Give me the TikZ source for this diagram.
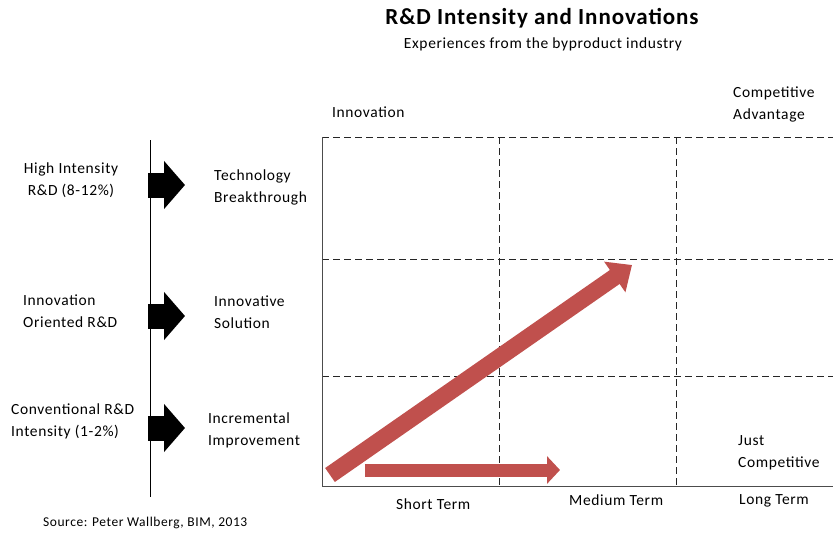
\documentclass[tikz,border=0pt]{standalone}
\usepackage{fontspec}
\setmainfont{Carlito}[LetterSpace=4]
\usetikzlibrary{arrows.meta}
\definecolor{arrred}{RGB}{192,80,77}

\begin{document}
\begin{tikzpicture}[x=1pt, y=-1pt,
    txt/.style={font=\fontsize{15.5}{22}\selectfont, inner sep=0pt, align=left},
    cell/.style={black!85, dash pattern=on 7pt off 4pt},
    blk/.style={line width=25pt, -{Triangle[length=21pt, width=47pt]}},
    redarr/.style={arrred, line width=#1}]
    \def\gl{322}
    \def\gr{833}
    \def\gt{137}
    \def\gb{486}
    \useasboundingbox (0,0) rectangle (833,533);

    % titel
    \node[font=\fontsize{23}{26}\selectfont\bfseries, inner sep=0pt] (titel) at (542,18) {R\&D Intensity and Innovations};
    \node[txt] (subtitel) at (543,44) {Experiences from the byproduct industry};

    % links
    \draw (150,140) -- (150,497);
    \node[txt, align=center] (high) at (71,180.5) {High Intensity\\R\&D (8-12\%)};
    \node[txt, anchor=west] (orient) at (23,311.5) {Innovation\\Oriented R\&D};
    \node[txt, anchor=west] (conv) at (11,421.5) {Conventional R\&D\\Intensity (1-2\%)};
    \node[txt, anchor=west] (tech) at (214,187) {Technology\\Breakthrough};
    \node[txt, anchor=west] (solut) at (214,312) {Innovative\\Solution};
    \node[txt, anchor=west] (incr) at (208,430) {Incremental\\Improvement};
    \coordinate (a1) at (148,185);  \coordinate (b1) at (185,185);
    \coordinate (a2) at (148,316);  \coordinate (b2) at (185,316);
    \coordinate (a3) at (148,428);  \coordinate (b3) at (185,428);
    \draw[blk] (a1) -- (b1);
    \draw[blk] (a2) -- (b2);
    \draw[blk] (a3) -- (b3);

    % raster
    \draw[cell] (\gl,\gt) -- (\gr,\gt);
    \draw[cell] (\gl,259) -- (\gr,259);
    \draw[cell] (\gl,376) -- (\gr,376);
    \draw[cell] (499,\gt) -- (499,\gb);
    \draw[cell] (676,\gt) -- (676,\gb);
    \draw[black!70, line width=0.9pt] (\gl,\gt) -- (\gl,\gb) -- (\gr,\gb);
    \node[txt, anchor=west] (innov) at (332,112) {Innovation};
    \node[txt, anchor=west] (adv) at (733,104) {Competitive\\Advantage};
    \node[txt, anchor=west] (just) at (738,453) {Just\\Competitive};
    \node[txt, anchor=west] (short) at (396,504) {Short Term};
    \node[txt, anchor=west] (medium) at (569,500) {Medium Term};
    \node[txt, anchor=west] (long) at (739,501) {Long Term};

    % pijlen
    \coordinate (start) at (330,475);
    \coordinate (top) at (632,265);
    \coordinate (hstart) at (365,470);
    \coordinate (hend) at (560,470);
    \draw[redarr=17pt, -{Triangle[length=21pt, width=36pt]}] (start) -- (top);
    \draw[redarr=13pt, -{Triangle[length=13pt, width=27pt]}] (hstart) -- (hend);

    \node[font=\fontsize{13.5}{16}\selectfont, inner sep=0pt, anchor=west] (bron) at (43,523) {Source: Peter Wallberg, BIM, 2013};
\end{tikzpicture}
\end{document}
